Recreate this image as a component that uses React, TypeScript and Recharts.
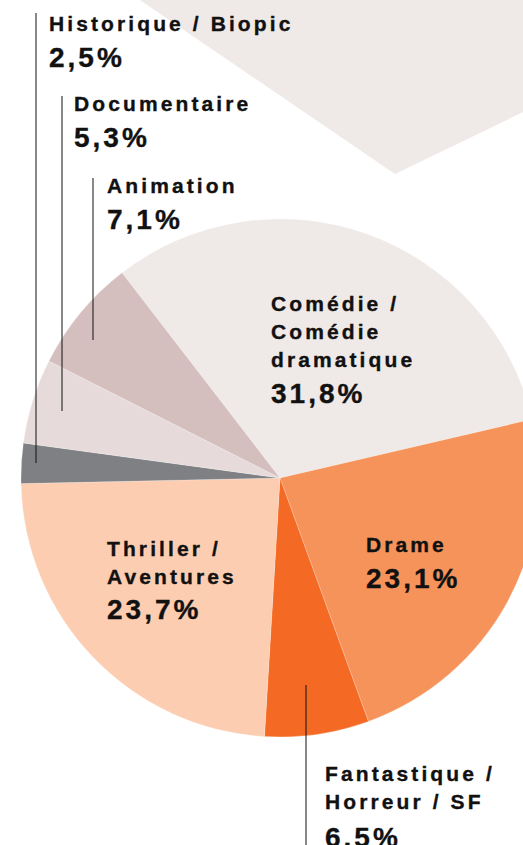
import React from "react";
import { PieChart, Pie, Cell } from "recharts";

// parts of the genre breakdown, clockwise from the top
const genres = [
  "Comédie / Comédie dramatique",
  "Drame",
  "Fantastique / Horreur / SF",
  "Thriller / Aventures",
  "Historique / Biopic",
  "Documentaire",
  "Animation",
];
const shares = [31.8, 23.1, 6.5, 23.7, 2.5, 5.3, 7.1];
const shareLabels = ["31,8%", "23,1%", "6.5%", "23,7%", "2,5%", "5,3%", "7,1%"];
const colors = ["#efe9e7", "#f6935a", "#f46a24", "#fccdb0", "#7f8084", "#e6dbda", "#d4bfbe"];

// piece of the neighbouring chart showing at the top
const backdrop = [{ name: "autres", value: 1 }];

// label placement, one entry per genre
const labelLayout = [
  { lines: ["Comédie /", "Comédie", "dramatique"], x: 271, y: 311, pctY: 403 },
  { lines: ["Drame"], x: 366, y: 552, pctY: 588 },
  { lines: ["Fantastique /", "Horreur / SF"], x: 325, y: 781, pctY: 847, leader: { x: 306, y1: 685, y2: 845 } },
  { lines: ["Thriller /", "Aventures"], x: 107, y: 556, pctY: 619 },
  { lines: ["Historique / Biopic"], x: 49, y: 31, pctY: 67, leader: { x: 36, y1: 13, y2: 463 } },
  { lines: ["Documentaire"], x: 74, y: 111, pctY: 147, leader: { x: 62, y1: 96, y2: 411 } },
  { lines: ["Animation"], x: 107, y: 193, pctY: 229, leader: { x: 93, y1: 178, y2: 340 } },
];

const data = genres.map((g, i) => ({ name: g, value: shares[i] }));

const FONT = "'Liberation Sans', Arial, Helvetica, sans-serif";

function renderLabel(props: any) {
  const l = labelLayout[props.index];
  if (!l) return null;
  return (
    <g>
      {l.leader && (
        <line x1={l.leader.x} y1={l.leader.y1} x2={l.leader.x} y2={l.leader.y2} stroke="#111" strokeWidth={1} />
      )}
      <text x={l.x} fontFamily={FONT} fontWeight="bold" fill="#111" stroke="#111" strokeWidth={0.35}>
        {l.lines.map((t, j) => (
          <tspan key={j} x={l.x} y={l.y + j * 28} fontSize={21} letterSpacing={3.1}>
            {t}
          </tspan>
        ))}
        <tspan x={l.x} y={l.pctY} fontSize={28} letterSpacing={3}>
          {shareLabels[props.index]}
        </tspan>
      </text>
    </g>
  );
}

export default function App() {
  return (
    <div style={{ position: "absolute", left: 0, top: 0, width: 523, height: 845, background: "#fff" }}>
      <PieChart width={523} height={845} margin={{ top: 0, right: 0, bottom: 0, left: 0 }}>
        <Pie
          data={backdrop}
          dataKey="value"
          cx={395}
          cy={174}
          outerRadius={700}
          startAngle={25.8}
          endAngle={145.7}
          stroke="none"
          fill="#efe9e7"
          label={false}
          labelLine={false}
          isAnimationActive={false}
        />
        <Pie
          data={data}
          dataKey="value"
          cx={280}
          cy={478}
          outerRadius={259}
          startAngle={127.6}
          endAngle={-232.4}
          stroke="#ffffff"
          strokeOpacity={0.35}
          strokeWidth={0.6}
          label={renderLabel}
          labelLine={false}
          isAnimationActive={false}
        >
          {data.map((d, i) => (
            <Cell key={d.name} fill={colors[i]} />
          ))}
        </Pie>
      </PieChart>
    </div>
  );
}
